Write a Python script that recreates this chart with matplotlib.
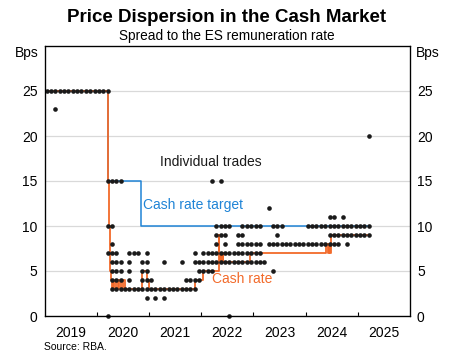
import matplotlib
matplotlib.use("Agg")
import matplotlib.pyplot as plt
import numpy as np

plt.rcParams['font.family'] = ['Liberation Sans', 'DejaVu Sans']

# ---------------- data ----------------
# Cash rate target spread (decimal year, bps) - step series
target_dates = [2019.0, 2020.216, 2020.84, 2025.24]
target_bps = [25, 15, 10, 10]

# Cash rate spread (decimal year, bps) - step series
cash_dates = [2019.0, 2020.216, 2020.228, 2020.24, 2020.252, 2020.262, 2020.272,
              2020.285, 2020.31, 2020.34, 2020.37, 2020.40, 2020.43, 2020.46,
              2020.50, 2020.54, 2020.58,
              2020.86, 2020.96, 2021.01,
              2021.88, 2022.04,
              2022.335, 2022.35, 2022.365, 2022.38, 2022.395, 2022.41, 2022.425,
              2022.94,
              2024.40, 2024.42, 2024.44, 2024.46, 2024.49, 2025.24]
cash_bps = [25, 15, 13, 10, 7, 5, 4,
            3, 4, 3, 4, 3, 4, 3,
            4, 3, 3,
            5, 4, 3,
            4, 5,
            9, 7, 6, 7, 6, 7, 6,
            7,
            8, 7, 8, 7, 9, 9]

# Individual trades: month index (0 = Jan 2019) at which each spread level traded
trades_25 = [0, 1, 2, 3, 4, 5, 6, 7, 8, 9, 10, 11, 12, 13, 14]
trades_23 = [2]
trades_20 = [74]
trades_15 = [14, 15, 16, 17, 38, 40]
trades_12 = [51]
trades_11 = [65, 66, 68]
trades_10 = [14, 15, 39, 40, 41, 42, 45, 46, 47, 48, 49, 52, 53, 54,
             60, 61, 62, 63, 64, 65, 66, 67, 68, 69, 70, 71, 72, 73, 74]
trades_9 = [39, 40, 41, 44, 45, 53, 65, 66, 67, 68, 69, 70, 71, 72, 73, 74]
trades_8 = [15, 39, 41, 44, 45, 46, 47, 48, 49, 51, 52, 53, 54, 55, 56, 57,
            58, 59, 60, 61, 62, 63, 64, 65, 66, 67, 69]
trades_7 = [14, 15, 16, 19, 20, 21, 23, 34, 36, 37, 38, 39, 40, 41, 42, 43,
            44, 45, 46, 47, 48, 49]
trades_6 = [15, 16, 17, 19, 22, 23, 27, 31, 34, 35, 36, 37, 38, 39, 40, 41,
            42, 43, 44, 45, 46, 47, 48, 49, 50]
trades_5 = [15, 16, 17, 19, 22, 23, 35, 36, 37, 38, 52]
trades_4 = [15, 16, 17, 19, 22, 23, 24, 32, 33, 34, 35]
trades_3 = [15, 16, 17, 18, 19, 20, 21, 22, 23, 24, 25, 26, 27, 28, 29, 30,
            31, 32, 33, 34]
trades_2 = [23, 25, 27]
trades_0 = [14, 42]

trade_levels = [25, 23, 20, 15, 12, 11, 10, 9, 8, 7, 6, 5, 4, 3, 2, 0]
trade_months = [trades_25, trades_23, trades_20, trades_15, trades_12, trades_11,
                trades_10, trades_9, trades_8, trades_7, trades_6, trades_5,
                trades_4, trades_3, trades_2, trades_0]

years = [2019, 2020, 2021, 2022, 2023, 2024, 2025]
y_ticks = [0, 5, 10, 15, 20, 25]

# ---------------- styling ----------------
BLUE = '#1f84d6'
ORANGE = '#f26a2a'
FS = 10

fig = plt.figure(figsize=(4.55, 3.6), dpi=100)
ax = fig.add_axes([44.5 / 455, 44 / 360, (410 - 44.5) / 455, 270 / 360])

ax.set_xlim(2019, 2026)
ax.set_ylim(0, 30)

ax.set_yticks(y_ticks)
ax.grid(axis='y', color='#d9d9d9', lw=0.9, zorder=0)
ax.tick_params(axis='y', length=0, labelsize=FS, pad=5)

ax.set_xticks([y + 0.5 for y in years])
ax.set_xticklabels([str(y) for y in years])
ax.set_xticks([y + 1 for y in years[:-1]], minor=True)
ax.tick_params(axis='x', which='major', length=0, labelsize=FS, pad=7)
ax.tick_params(axis='x', which='minor', direction='in', length=3, width=0.8)

for s in ax.spines.values():
    s.set_linewidth(0.9)

ax2 = ax.twinx()
ax2.set_ylim(0, 30)
ax2.set_yticks(y_ticks)
ax2.tick_params(axis='y', length=0, labelsize=FS, pad=5)

ax.plot(target_dates, target_bps, drawstyle='steps-post', color=BLUE, lw=1.1, zorder=2)
ax.plot(cash_dates, cash_bps, drawstyle='steps-post', color=ORANGE, lw=1.3, zorder=3)

xs, ys = [], []
for lvl, months in zip(trade_levels, trade_months):
    for m in months:
        xs.append(2019 + (m + 0.5) / 12)
        ys.append(lvl)
ax.scatter(xs, ys, s=11, color='#1a1a1a', zorder=4, linewidths=0, clip_on=False)

ax.text(2021.22, 17.1, 'Individual trades', fontsize=FS, color='#1a1a1a', va='center')
ax.text(2020.89, 12.3, 'Cash rate target', fontsize=FS, color=BLUE, va='center')
ax.text(2022.2, 4.1, 'Cash rate', fontsize=FS, color=ORANGE, va='center')

ax.text(-0.016, 29.2, 'Bps', transform=ax.get_yaxis_transform(), ha='right', va='center', fontsize=FS)
ax.text(1.016, 29.2, 'Bps', transform=ax.get_yaxis_transform(), ha='left', va='center', fontsize=FS)

fig.text(227 / 455, 1 - 17 / 360, 'Price Dispersion in the Cash Market', ha='center', va='center',
         fontsize=13.5, fontweight='bold')
fig.text(227 / 455, 1 - 36 / 360, 'Spread to the ES remuneration rate', ha='center', va='center',
         fontsize=9.8)
fig.text(44 / 455, 1 - 347 / 360, 'Source: RBA.', ha='left', va='center', fontsize=7.5)

fig.savefig('out.png', dpi=100)
